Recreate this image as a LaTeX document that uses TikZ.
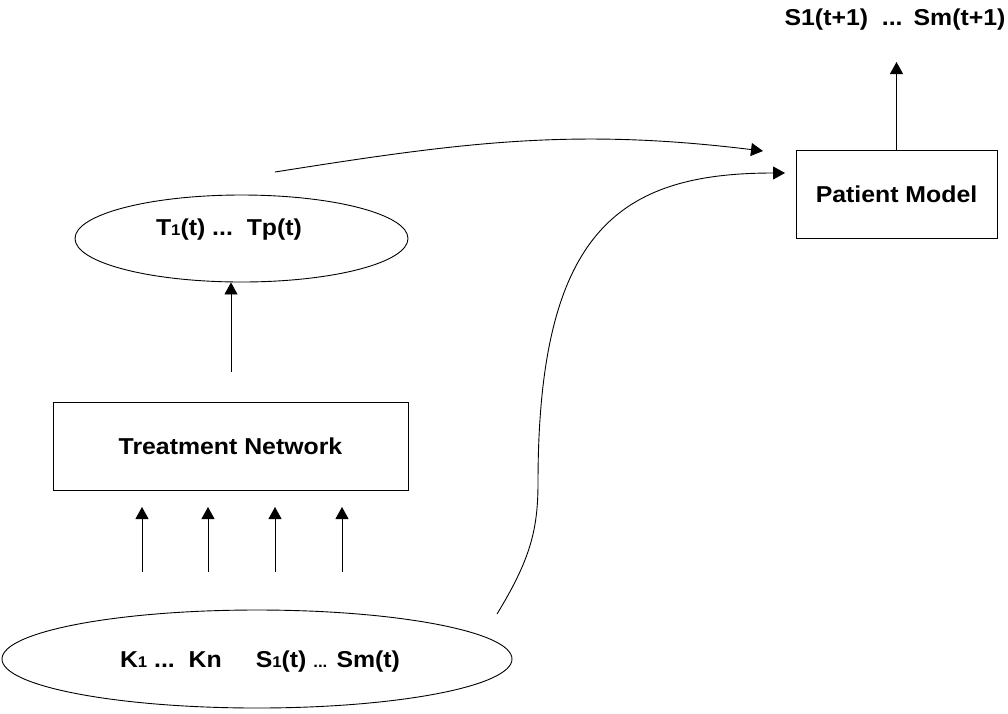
\documentclass[tikz,border=0pt]{standalone}
\usepackage{fontspec}
\setmainfont{Liberation Sans}[FakeStretch=1.08]
\usetikzlibrary{arrows.meta,shapes.geometric}
\newcommand\smalltxt[1]{{\fontsize{15.5}{15.5}\selectfont #1}}
\begin{document}
\begin{tikzpicture}[x=1pt,y=-1pt,
  lbl/.style={inner sep=0,font=\fontsize{23}{27}\selectfont\bfseries},
  box/.style={draw,line width=0.9pt,rectangle,inner sep=0,font=\fontsize{23}{27}\selectfont\bfseries},
  oval/.style={draw,line width=0.9pt,ellipse,inner sep=0},
  arr/.style={line width=0.9pt,-{Triangle[length=12pt,width=13pt]}},
  ln/.style={line width=0.9pt}]
\useasboundingbox (0,0) rectangle (1008,713);

% nodes
\node[box,minimum width=201,minimum height=88] (P) at (896.5,194) {Patient Model};
\node[box,minimum width=355,minimum height=88] (TN) at (230.5,446) {Treatment Network};
\node[oval,minimum width=333,minimum height=87] (T) at (241.5,238.5) {};
\node[lbl] (Ttxt) at (229,230) {T\smalltxt{1}(t) ...\ \ Tp(t)};
\node[oval,minimum width=510,minimum height=98] (K) at (257,659) {};
\node[lbl] (Ktxt) at (260,662) {K\smalltxt{1} ...\ \ Kn\hspace{34pt}S\smalltxt{1}(t) \smalltxt{...} Sm(t)};
\node[lbl] (out) at (895,20) {S1(t+1)\ \ ...\hspace{11pt}Sm(t+1)};

% coordinates
\coordinate (ptip) at (896.5,62);
\coordinate (tnout) at (231,372);
\coordinate (a1s) at (142,572); \coordinate (a1e) at (142,507);
\coordinate (a2s) at (208,572); \coordinate (a2e) at (208,507);
\coordinate (a3s) at (275,572); \coordinate (a3e) at (275,507);
\coordinate (a4s) at (342,572); \coordinate (a4e) at (342,507);
\coordinate (c1s) at (275,172); \coordinate (c1e) at (763,151);
\coordinate (c2s) at (497,614); \coordinate (c2m) at (538,483); \coordinate (c2e) at (785,173);

% connectors
\draw[arr] (P.north) -- (ptip);
\draw[arr] (tnout) -- (tnout |- T.south);
\draw[arr] (a1s) -- (a1e);
\draw[arr] (a2s) -- (a2e);
\draw[arr] (a3s) -- (a3e);
\draw[arr] (a4s) -- (a4e);
\draw[arr] (c1s) to[out=9,in=173] (c1e);
\draw[arr] (c2s) .. controls (530,560) and (538,530) .. (c2m)
  .. controls (538,230) and (620,173) .. (c2e);
\end{tikzpicture}
\end{document}
